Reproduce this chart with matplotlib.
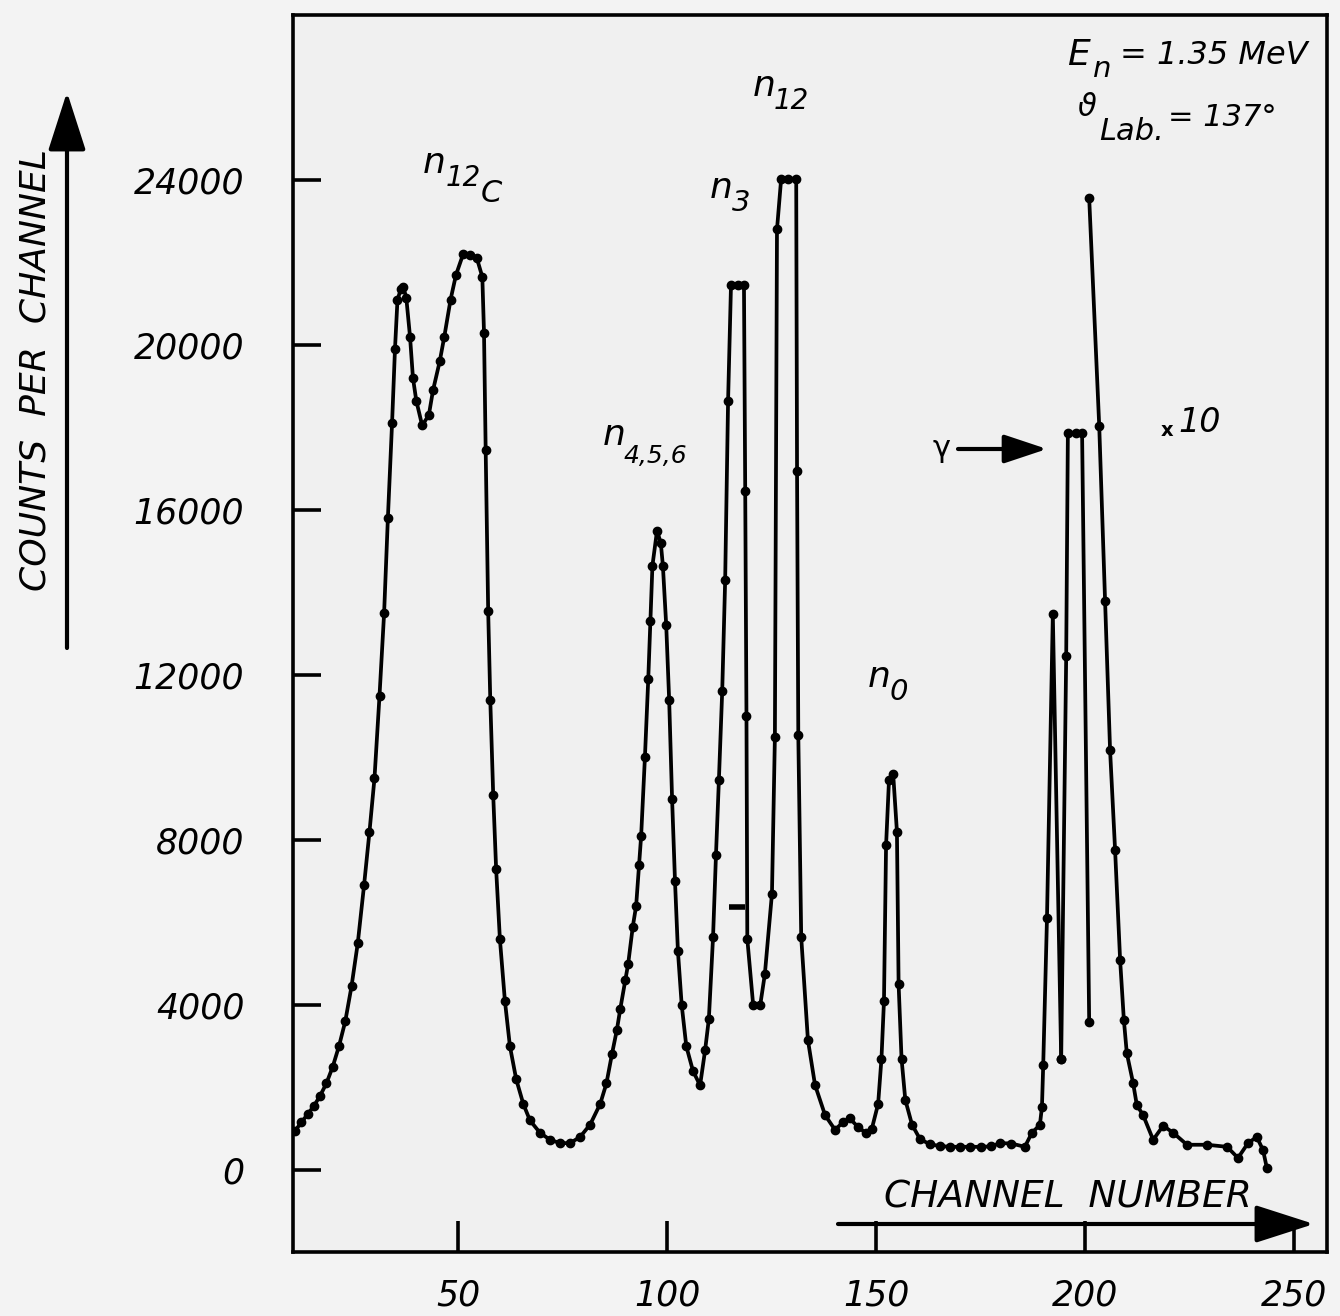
import matplotlib
matplotlib.use("Agg")
import matplotlib.pyplot as plt

# ---------------- data (channel, counts per channel) ----------------
main_ch = [11, 12.5, 14, 15.5, 17, 18.5, 20, 21.5, 23, 24.5, 26, 27.5, 28.8, 30, 31.2, 32.3,
           33.2, 34.2, 34.9, 35.5, 36.3, 36.9, 37.6, 38.5, 39.2, 40.0, 41.4, 43.0, 44.0, 45.6,
           46.7, 48.2, 49.5, 51.2, 52.9, 54.5, 55.8, 56.2, 56.6, 57.2, 57.7, 58.4, 59.1, 60.0,
           61.2, 62.4, 63.9, 65.6, 67.2, 69.6, 72.0, 74.4, 76.8, 79.2, 81.6, 84.0, 85.5, 86.8,
           88.0, 88.8, 90.0, 90.7, 91.8, 92.6, 93.3, 93.8, 94.7, 95.5, 96.0, 96.5, 97.6, 98.5,
           99.0, 99.8, 100.5, 101.2, 101.9, 102.6, 103.5, 104.6, 106.2, 107.9,
           109.1, 110.0, 111.0, 111.7, 112.4, 113.2, 113.9, 114.6, 115.3, 117.0, 118.4,
           118.7, 119.0, 119.2, 120.6, 122.3, 123.4, 125.1, 125.8, 126.3, 127.3, 129.0, 130.9,
           131.1, 131.4, 132.1, 133.7, 135.4, 137.8, 140.2, 142.0, 143.7, 145.6, 147.5, 149.0,
           150.5, 151.3, 151.9, 152.4, 153.1, 154.1, 155.0, 155.4, 156.1, 157.0, 158.6, 160.5,
           162.9, 165.3, 167.7, 170.0, 172.5, 175.0, 177.5, 179.7, 182.4, 185.6, 187.3, 189.2,
           189.7, 190.0, 190.9, 192.3, 194.3]
main_counts = [950, 1150, 1350, 1550, 1800, 2100, 2500, 3000, 3600, 4450, 5500, 6900, 8200, 9500, 11500, 13500,
               15800, 18100, 19900, 21100, 21350, 21400, 21150, 20200, 19200, 18650, 18050, 18300, 18900, 19600,
               20200, 21100, 21700, 22200, 22180, 22100, 21650, 20300, 17450, 13550, 11400, 9100, 7300, 5600,
               4100, 3000, 2200, 1600, 1200, 900, 730, 650, 650, 800, 1100, 1600, 2100, 2800,
               3400, 3900, 4600, 5000, 5900, 6400, 7400, 8100, 10000, 11900, 13300, 14650, 15500, 15200,
               14650, 13200, 11400, 9000, 7000, 5300, 4000, 3000, 2400, 2050,
               2900, 3660, 5640, 7630, 9450, 11620, 14290, 18650, 21460, 21460, 21460,
               16470, 11000, 5600, 4000, 4000, 4750, 6700, 10500, 22800, 24030, 24030, 24030,
               16950, 10540, 5640, 3150, 2060, 1330, 970, 1150, 1250, 1050, 900, 1000,
               1600, 2700, 4100, 7870, 9450, 9600, 8200, 4500, 2700, 1700, 1100, 750,
               620, 580, 560, 560, 560, 560, 570, 650, 640, 560, 900, 1090,
               1530, 2540, 6100, 13470, 2690]

gamma_ch = [194.3, 195.5, 195.9, 197.8, 199.3, 201.0]
gamma_counts = [2690, 12470, 17870, 17870, 17870, 3580]

x10_ch = [201.0, 203.4, 204.8, 206.0, 207.2, 208.4, 209.3, 210.0, 211.5, 212.4, 213.9, 216.3,
          218.7, 221.1, 224.4, 229.2, 234.0, 236.6, 239.0, 241.1, 242.6, 243.5]
x10_counts = [23560, 18040, 13800, 10170, 7750, 5090, 3630, 2830, 2110, 1570, 1330, 730,
              1070, 900, 610, 610, 560, 290, 650, 800, 480, 50]

stray_ch = [116.7]
stray_counts = [6370]

xticks = [50, 100, 150, 200, 250]
yticks = [0, 4000, 8000, 12000, 16000, 20000, 24000]

# ---------------- figure ----------------
W, H = 1340, 1316
fig = plt.figure(figsize=(W / 100, H / 100), dpi=100, facecolor="#f3f3f3")
ax = fig.add_axes([293 / W, 1 - 1252 / H, (1327 - 293) / W, (1252 - 15) / H])
ax.set_facecolor("#f0f0f0")

ax.set_xlim(10.5, 257.9)
ax.set_ylim(-1990, 28000)

style = dict(color="black", lw=2.7, marker="o", ms=6, mfc="black", mec="black")
ax.plot(main_ch, main_counts, **style)
ax.plot(gamma_ch, gamma_counts, **style)
ax.plot(x10_ch, x10_counts, **style)
ax.plot(stray_ch, stray_counts, ls="none", marker="_", ms=12, mew=4, color="black")

for s in ax.spines.values():
    s.set_linewidth(2.6)
ax.set_xticks(xticks)
ax.set_yticks(yticks)
ax.set_xticklabels([str(v) for v in xticks], fontsize=25, fontstyle="italic")
ax.set_yticklabels([str(v) for v in yticks], fontsize=25, fontstyle="italic")
ax.tick_params(axis="both", direction="in", width=2.6)
ax.tick_params(axis="x", length=22, pad=19)
ax.tick_params(axis="y", length=20, pad=35)


def fp(x, y):
    return (x / W, 1 - y / H)


it = dict(fontstyle="italic", color="black")


def lt(x, y, s, size, **kw):
    d = dict(it)
    d.update(kw)
    fig.text(*fp(x, y), s, ha="left", va="center", fontsize=size, **d)


# axis titles with arrows
fig.text(*fp(36, 370), "COUNTS  PER  CHANNEL", rotation=90, ha="center", va="center", fontsize=26, **it)
ax.annotate("", xy=(67, H - 92), xytext=(67, H - 648), xycoords="figure pixels",
            arrowprops=dict(arrowstyle="-|>,head_length=1.4,head_width=0.45", lw=3, color="black",
                            mutation_scale=26, shrinkA=0, shrinkB=0))
fig.text(*fp(1068, 1198), "CHANNEL  NUMBER", ha="center", va="center", fontsize=27, **it)
ax.annotate("", xy=(1314, H - 1224), xytext=(838, H - 1224), xycoords="figure pixels",
            arrowprops=dict(arrowstyle="-|>,head_length=1.4,head_width=0.45", lw=3, color="black",
                            mutation_scale=26, shrinkA=0, shrinkB=0))

# peak labels
lt(423, 163, "n", 26)
lt(446, 178, "12", 20)
lt(481, 193, "C", 22)

lt(603, 435, "n", 26)
lt(624, 456, "4,5,6", 18)

lt(710, 188, "n", 26)
lt(732, 203, "3", 21)

lt(753, 86, "n", 26)
lt(774, 101, "12", 20)

lt(868, 677, "n", 26)
lt(890, 692, "0", 21)

# parameters
lt(1067, 55, "E", 26)
lt(1093, 69, "n", 21)
lt(1120, 55, "= 1.35 MeV", 23)
lt(1078, 107, "ϑ", 22)
lt(1099, 131, "Lab.", 22)
lt(1168, 117, "= 137°", 22)

# gamma marker and x10
lt(933, 448, "γ", 22, fontstyle="normal")
ax.annotate("", xy=(1047, H - 449), xytext=(958, H - 449), xycoords="figure pixels",
            arrowprops=dict(arrowstyle="-|>,head_length=1.2,head_width=0.4", lw=3, color="black",
                            mutation_scale=22, shrinkA=0, shrinkB=0))
lt(1161, 430, "x", 14, fontweight="bold", fontstyle="normal")
lt(1178, 423, "10", 24)

fig.savefig("out.png", dpi=100, facecolor=fig.get_facecolor())
